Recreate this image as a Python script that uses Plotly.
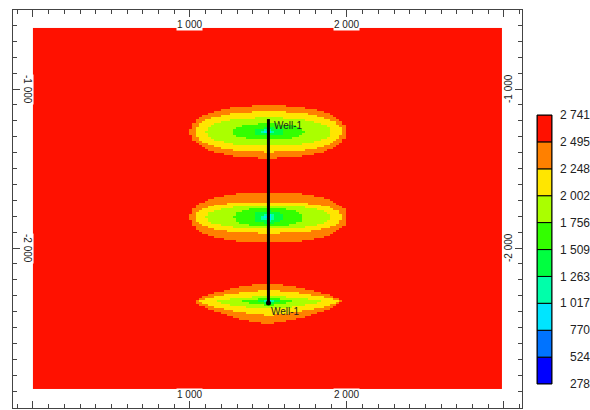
import numpy as np
import plotly.graph_objects as go

# ---------------- data ----------------
# colour classes (legend edges, values) and colours
class_edges = [278, 524, 770, 1017, 1263, 1509, 1756, 2002, 2248, 2495, 2741]
class_labels = ["278", "524", "770", "1 017", "1 263", "1 509", "1 756", "2 002", "2 248", "2 495", "2 741"]
class_colors = ["#0000ff", "#0073ff", "#00e5ff", "#00ffaa", "#00ff40",
                "#33ff00", "#aaff00", "#ffe600", "#ff8000", "#ff1100"]

# property grid extent (model coordinates)
grid_x_min, grid_x_max = 0, 2987
grid_y_top, grid_y_bot = -616, -2887
grid_nx, grid_ny = 150, 182
background_value = 2618

# band values inside lenses (outer -> inner)
band_values = [2371, 2125, 1879, 1632, 1386, 1140, 893]

# three low-value lenses
lens_cx = [1500, 1500, 1500]
lens_cy = [-1270, -1808, -2333]
lens_exp = [2.2, 2.3, 1.35]
lens_hw = [
    [497, 468, 395, 223, 96, 38, 19],
    [497, 465, 395, 217, 96, 40, 20],
    [468, 446, 338, 160, 76, 32, 16],
]
lens_hh_top = [
    [164, 126, 88, 50, 25, 13, 6],
    [160, 100, 72, 57, 38, 25, 16],
    [112, 68, 32, 18, 10, 7, 4],
]
lens_hh_bot = [
    [164, 126, 88, 50, 25, 13, 6],
    [160, 100, 72, 57, 38, 25, 16],
    [140, 88, 48, 26, 15, 10, 6],
]

# well
well_name = "Well-1"
well_x = [1500, 1500]
well_y = [-1189, -2346]

# axes
x_range = [-127, 3115]
y_range = [-3006, -503]
x_label_vals = [1000, 2000]
x_label_text = ["1 000", "2 000"]
y_label_vals = [-1000, -2000]
y_label_text = ["-1 000", "-2 000"]

# ---------------- build field ----------------
xs = np.linspace(grid_x_min, grid_x_max, grid_nx + 1)
xc = (xs[:-1] + xs[1:]) / 2
ys = np.linspace(grid_y_top, grid_y_bot, grid_ny + 1)
yc = (ys[:-1] + ys[1:]) / 2
X, Y = np.meshgrid(xc, yc)
Z = np.full(X.shape, float(background_value))
for i in range(len(lens_cx)):
    dx = np.abs(X - lens_cx[i])
    dyv = Y - lens_cy[i]
    for k, val in enumerate(band_values):
        hh = np.where(dyv >= 0, lens_hh_top[i][k], lens_hh_bot[i][k])
        r = (dx / lens_hw[i][k]) ** lens_exp[i] + (np.abs(dyv) / hh) ** lens_exp[i]
        Z = np.where(r <= 1, np.minimum(Z, val), Z)

zmin, zmax = class_edges[0], class_edges[-1]
cscale = []
for i, c in enumerate(class_colors):
    a = (class_edges[i] - zmin) / (zmax - zmin)
    b = (class_edges[i + 1] - zmin) / (zmax - zmin)
    cscale += [[a, c], [b, c]]

fig = go.Figure()
fig.add_trace(go.Heatmap(x=xc, y=yc, z=Z, zmin=zmin, zmax=zmax, colorscale=cscale,
                         showscale=False, hoverinfo="skip"))

fig.add_trace(go.Scatter(x=well_x, y=well_y, mode="lines",
                         line=dict(color="black", width=3), hoverinfo="skip", showlegend=False))
fig.add_trace(go.Scatter(x=well_x[1:], y=well_y[1:], mode="markers",
                         marker=dict(color="black", size=5), hoverinfo="skip", showlegend=False))

# legend (class bars)
fig.add_trace(go.Bar(x=[0] * len(class_colors),
                     y=[class_edges[i + 1] - class_edges[i] for i in range(len(class_colors))],
                     base=class_edges[:-1], width=1,
                     marker=dict(color=class_colors, line=dict(color="black", width=1)),
                     xaxis="x2", yaxis="y2", showlegend=False, hoverinfo="skip"))

axis_col = "#444444"
fig.update_layout(
    width=590, height=410,
    margin=dict(l=13, r=0, t=10, b=2, autoexpand=False),
    paper_bgcolor="white", plot_bgcolor="white",
    barmode="overlay",
    font=dict(family="Liberation Sans, Arial, sans-serif", size=10, color="#222"),
    showlegend=False,
    xaxis=dict(domain=[0, 509 / 577], range=x_range, showgrid=False, zeroline=False,
               automargin=False,
               showline=True, mirror="allticks", linecolor=axis_col, linewidth=1,
               ticks="inside", ticklen=7, tickcolor=axis_col, dtick=1000, tick0=0,
               showticklabels=False,
               minor=dict(dtick=100, tick0=0, ticks="inside", ticklen=4, tickcolor=axis_col)),
    yaxis=dict(domain=[0, 1], range=y_range, showgrid=False, zeroline=False,
               automargin=False,
               showline=True, mirror="allticks", linecolor=axis_col, linewidth=1,
               ticks="inside", ticklen=7, tickcolor=axis_col, dtick=1000, tick0=0,
               showticklabels=False,
               minor=dict(dtick=100, tick0=0, ticks="inside", ticklen=4, tickcolor=axis_col)),
    xaxis2=dict(domain=[524 / 577, 539 / 577], range=[-0.5, 0.5], anchor="y2",
                automargin=False,
                showgrid=False, zeroline=False, showticklabels=False, showline=False, ticks=""),
    yaxis2=dict(domain=[0.0603, 0.7362], range=[zmin, zmax], anchor="free", position=1.0,
                automargin=False,
                side="left", showgrid=False, zeroline=False, showline=False, ticks="",
                tickvals=class_edges, ticktext=class_labels,
                tickfont=dict(size=12, color="#222")),
)

fig.add_shape(type="rect", xref="x2 domain", yref="y2 domain", x0=0, x1=1, y0=0, y1=1,
              line=dict(color="black", width=1))

# axis labels drawn inside the frame on white boxes
for v, t in zip(x_label_vals, x_label_text):
    fig.add_annotation(x=v, y=1, xref="x", yref="paper", text=t, showarrow=False,
                       yanchor="top", yshift=-8, bgcolor="white", borderpad=0,
                       font=dict(size=10, color="#222"))
    fig.add_annotation(x=v, y=0, xref="x", yref="paper", text=t, showarrow=False,
                       yanchor="bottom", yshift=7, bgcolor="white", borderpad=0,
                       font=dict(size=10, color="#222"))
for v, t in zip(y_label_vals, y_label_text):
    fig.add_annotation(x=0, y=v, xref="paper", yref="y", text=t, showarrow=False,
                       xanchor="center", xshift=15, textangle=90, bgcolor="white", borderpad=0,
                       font=dict(size=10, color="#222"))
    fig.add_annotation(x=509 / 577, y=v, xref="paper", yref="y", text=t, showarrow=False,
                       xanchor="center", xshift=-14, textangle=-90, bgcolor="white", borderpad=0,
                       font=dict(size=10, color="#222"))

# well names
fig.add_annotation(x=well_x[0], y=well_y[0], text=well_name, showarrow=False,
                   xanchor="left", yanchor="middle", xshift=4, yshift=-6,
                   font=dict(size=10, color="#222"))
fig.add_annotation(x=well_x[1], y=well_y[1], text=well_name, showarrow=False,
                   xanchor="left", yanchor="middle", xshift=1, yshift=-8,
                   font=dict(size=10, color="#222"))

fig.write_html("out.html")
